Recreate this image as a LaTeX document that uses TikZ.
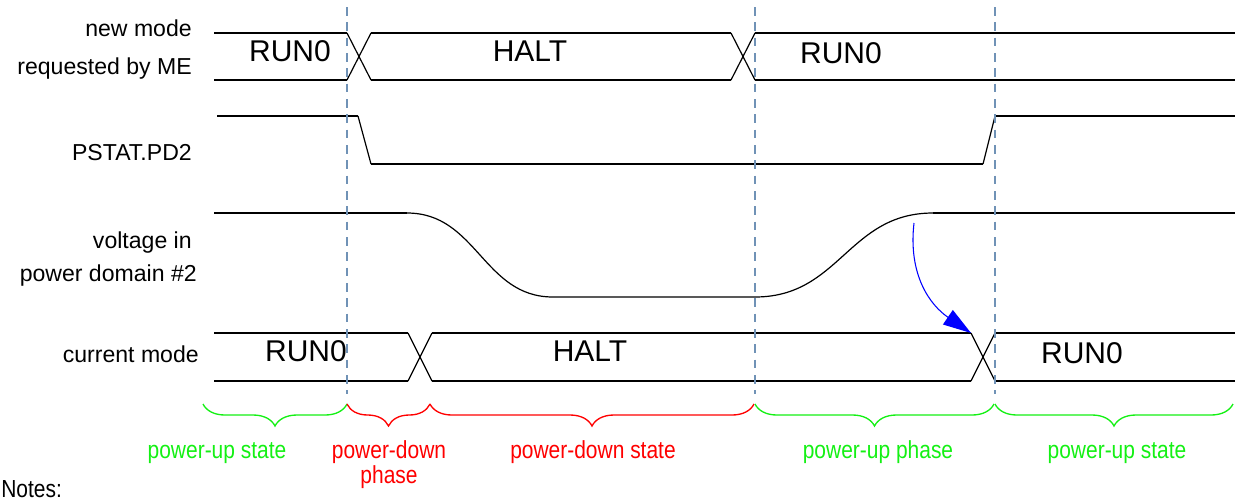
\documentclass[tikz,border=0pt]{standalone}
\usepackage{fontspec}
\setmainfont{Liberation Sans}
\newfontfamily\narrowsans[FakeStretch=0.85]{Liberation Sans}
\usetikzlibrary{positioning}
\usetikzlibrary{arrows.meta, decorations.pathreplacing}

\definecolor{markerblue}{RGB}{112,146,182}
\definecolor{upgreen}{RGB}{20,240,20}
\definecolor{downred}{RGB}{255,0,0}

\begin{document}
\begin{tikzpicture}[x=0.75pt, y=-0.75pt]

    \tikzset{
        level/.style={line width=1.5pt},
        slope/.style={line width=0.9pt},
        marker/.style={
            markerblue,
            line width=1.7pt,
            dash pattern=on 6.5pt off 5pt
        },
        signame/.style={
            anchor=base east,
            inner sep=0pt,
            font=\fontsize{17.3}{20}\selectfont
        },
        modename/.style={
            inner sep=0pt,
            font=\fontsize{22.5}{26}\selectfont
        },
        phasebrace/.style={
            line width=1pt,
            decorate,
            decoration={brace, mirror, amplitude=16.5pt}
        },
        phasename/.style={
            anchor=base,
            inner sep=0pt,
            align=center,
            font=\narrowsans\fontsize{18.5}{18.75}\selectfont
        }
    }
    \useasboundingbox (0,0) rectangle (1238,501);

    % signal names
    \node[signame] (newmode) at (192,36) {new mode};
    \node[signame] (reqby) at (192,74) {requested by ME};
    \node[signame] (pstat) at (192,160) {PSTAT.PD2};
    \node[signame] (voltin) at (192,248) {voltage in};
    \node[signame] (pdomain) at (197,281) {power domain \#2};
    \node[signame] (curmode) at (199,362) {current mode};

    % new mode requested by ME
    \draw[level] (214,33) -- (347,33) (371,33) -- (731,33) (755,33) -- (1235,33);
    \draw[level] (214,80) -- (347,80) (371,80) -- (731,80) (755,80) -- (1235,80);
    \draw[slope] (347,33) -- (371,80) (347,80) -- (371,33);
    \draw[slope] (731,33) -- (755,80) (731,80) -- (755,33);
    \node[modename] (reqrun) at (290,51) {RUN0};
    \node[modename] (reqhalt) at (530,51) {HALT};
    \node[modename] (reqrunb) at (841,53) {RUN0};

    % PSTAT.PD2
    \draw[level] (217,116) -- (358,116);
    \draw[slope] (358,116) -- (371,164);
    \draw[level] (371,164) -- (983,164);
    \draw[slope] (983,164) -- (995,116);
    \draw[level] (995,116) -- (1235,116);

    % voltage in power domain #2
    \draw[level] (214,213) -- (407,213);
    \draw[slope] (407,213) .. controls (477,213) and (483,297) .. (553,297)
        -- (755,297) .. controls (840,297) and (848,213) .. (933,213);
    \draw[level] (933,213) -- (1235,213);

    % current mode
    \draw[level] (214,333) -- (408,333) (432,333) -- (971,333) (995,333) -- (1235,333);
    \draw[level] (214,381) -- (408,381) (432,381) -- (971,381) (995,381) -- (1235,381);
    \draw[slope] (408,333) -- (432,381) (408,381) -- (432,333);
    \draw[slope] (971,333) -- (995,381) (971,381) -- (995,333);
    \node[modename] (currun) at (306,351) {RUN0};
    \node[modename] (curhalt) at (590,351) {HALT};
    \node[modename] (currunb) at (1082,353) {RUN0};

    % phase borders
    \draw[marker] (347,7) -- (347,394);
    \draw[marker] (755,7) -- (755,394);
    \draw[marker] (995,7) -- (995,394);

    % voltage settled -> mode switch
    \coordinate (vtop) at (914,223);
    \coordinate (modeswitch) at (971,333);
    \draw[-{Triangle[length=21pt,width=13pt]}, blue, line width=0.8pt]
        (vtop) .. controls (908,275) and (930,305) .. (modeswitch);

    % phases
    \draw[phasebrace, upgreen] (203,404) -- (347,404);
    \draw[phasebrace, downred] (347,404) -- (430,404);
    \draw[phasebrace, downred] (430,404) -- (754,404);
    \draw[phasebrace, upgreen] (755,404) -- (994,404);
    \draw[phasebrace, upgreen] (995,404) -- (1233,404);

    \node[phasename, upgreen] (upstate) at (217,458) {power-up state};
    \node[phasename, downred, anchor=north] (downphase) at (389,440) {power-down\\phase};
    \node[phasename, downred] (downstate) at (593,458) {power-down state};
    \node[phasename, upgreen] (upphase) at (878,458) {power-up phase};
    \node[phasename, upgreen] (upstateb) at (1117,458) {power-up state};
    \node[phasename, anchor=base west] (notes) at (1,497) {Notes:};

\end{tikzpicture}
\end{document}
